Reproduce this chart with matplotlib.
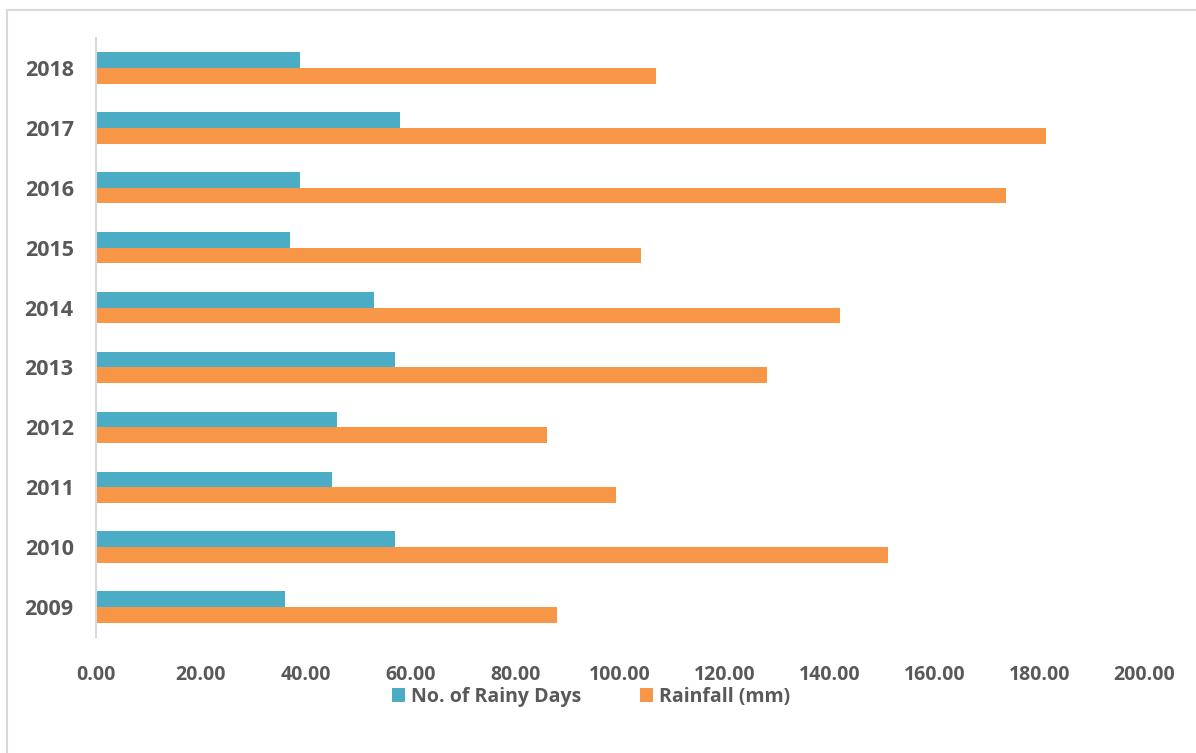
import numpy as np
import matplotlib
matplotlib.use("Agg")
import matplotlib.pyplot as plt
from matplotlib.lines import Line2D

years = ["2009", "2010", "2011", "2012", "2013", "2014", "2015", "2016", "2017", "2018"]
rainy_days = [36, 57, 45, 46, 57, 53, 37, 39, 58, 39]
rainfall = [88.0, 151.1, 99.3, 86.1, 128.1, 142.0, 104.0, 173.6, 181.3, 106.9]

blue = "#4BACC6"
orange = "#F79646"
text_col = "#595959"

plt.rcParams['font.family'] = ['Open Sans', 'DejaVu Sans']
plt.rcParams['font.weight'] = 'bold'

fig = plt.figure(figsize=(11.96, 7.53), dpi=100)
ax = fig.add_axes([96 / 1196, 1 - 637 / 753, (1144 - 96) / 1196, (637 - 38) / 753])

y = np.arange(len(years))
h = 0.262
ax.barh(y + h / 2, rainy_days, height=h, color=blue, label="No. of Rainy Days")
ax.barh(y - h / 2, rainfall, height=h, color=orange, label="Rainfall (mm)")

ax.set_xlim(0, 200)
ax.set_ylim(-0.5, len(years) - 0.5)
ax.set_xticks(np.arange(0, 201, 20))
ax.set_xticklabels(["%.2f" % v for v in np.arange(0, 201, 20)])
ax.set_yticks(y)
ax.set_yticklabels(years)

for s in ["top", "right", "bottom"]:
    ax.spines[s].set_visible(False)
ax.spines["left"].set_color("#D9D9D9")
ax.spines["left"].set_linewidth(1.5)
ax.tick_params(axis="both", length=0, labelcolor=text_col)
ax.tick_params(axis="x", pad=20, labelsize=14)
ax.tick_params(axis="y", pad=16, labelsize=15.5)

fig.legend(loc="center", bbox_to_anchor=(591 / 1196, 1 - 697 / 753), ncol=2,
           frameon=False, fontsize=14, labelcolor=text_col,
           handlelength=0.7, handleheight=0.7, handletextpad=0.3,
           columnspacing=3.0, borderpad=0)

# light frame around the chart (top and left visible)
fig.add_artist(Line2D([7 / 1196, 1], [1 - 9.5 / 753, 1 - 9.5 / 753], color="#D9D9D9", lw=1.5))
fig.add_artist(Line2D([7 / 1196, 7 / 1196], [0, 1 - 9.5 / 753], color="#D9D9D9", lw=1.5))

fig.savefig("out.png", dpi=100)
